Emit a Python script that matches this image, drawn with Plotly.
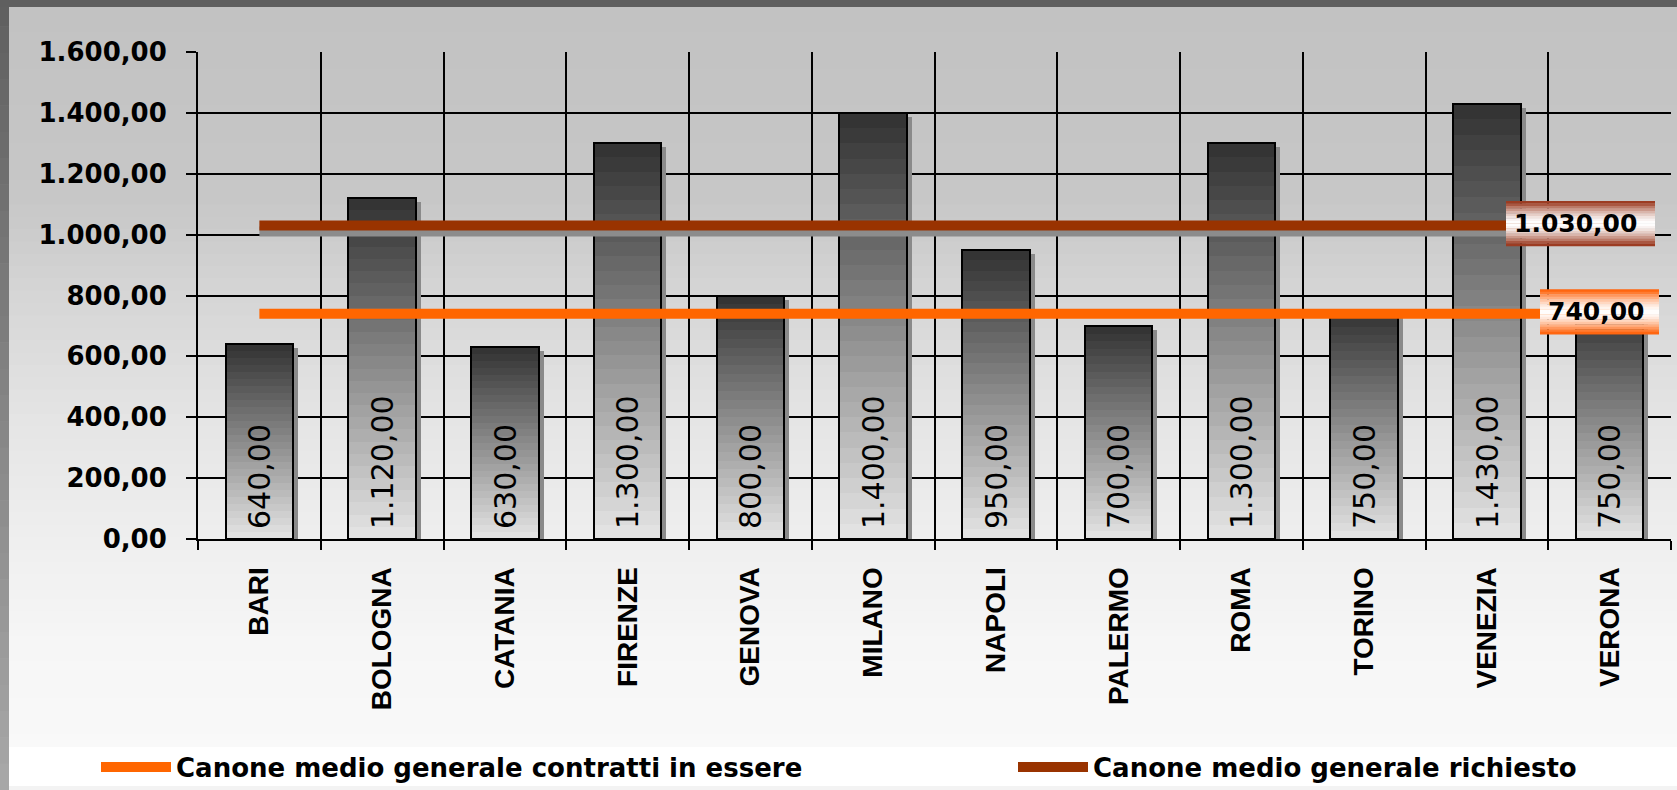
import plotly.graph_objects as go

# ---------------- data ----------------
cities = ["BARI", "BOLOGNA", "CATANIA", "FIRENZE", "GENOVA", "MILANO",
          "NAPOLI", "PALERMO", "ROMA", "TORINO", "VENEZIA", "VERONA"]
canone = [640, 1120, 630, 1300, 800, 1400, 950, 700, 1300, 750, 1430, 750]
media_contratti = 740      # Canone medio generale contratti in essere
media_richiesto = 1030     # Canone medio generale richiesto
y_tick_vals = [0, 200, 400, 600, 800, 1000, 1200, 1400, 1600]
name_contratti = "Canone medio generale contratti in essere"
name_richiesto = "Canone medio generale richiesto"


def it_fmt(v):
    s = f"{v:,.2f}"
    return s.replace(",", "X").replace(".", ",").replace("X", ".")


# ---------------- geometry helpers (decoration only) ----------------
W, H = 1677, 790
L, R, T, B = 198, 6, 52, 251
PW, PH = W - L - R, H - T - B
Y0 = H - B
CAT_PX = PW / len(cities)


def px_x(px):
    return (px - L) / PW


def px_y(py):
    return (Y0 - py) / PH


units_per_px = 1600 / PH

fig = go.Figure()

# bar shadows
BW = 0.55
fig.add_trace(go.Bar(
    x=cities, y=canone, base=-4 * units_per_px, width=BW,
    offset=-BW / 2 + 5 / CAT_PX, marker=dict(color="#8a8a8a", line=dict(width=0)),
    showlegend=False, hoverinfo="skip"))

# gradient bars: overlaid shorter bars, dark top -> light bottom
N = 28
c_top, c_bot = 0x34, 0xe2
for k in range(N):
    frac = (N - k) / N
    c = int(round(c_top + (c_bot - c_top) * k / (N - 1)))
    col = f"rgb({c},{c},{c})"
    fig.add_trace(go.Bar(
        x=cities, y=[v * frac for v in canone], width=BW, offset=-BW / 2,
        marker=dict(color=col, line=dict(width=0)),
        showlegend=False, hoverinfo="skip"))

# outline
fig.add_trace(go.Bar(
    x=cities, y=canone, width=BW, offset=-BW / 2,
    marker=dict(color="rgba(0,0,0,0)", line=dict(color="black", width=2)),
    showlegend=False, hoverinfo="skip"))

# value labels (transparent bar lifted slightly off the base)
lift = 7 * units_per_px
fig.add_trace(go.Bar(
    x=cities, y=[v - lift for v in canone], base=lift, width=BW, offset=-BW / 2,
    marker=dict(color="rgba(0,0,0,0)", line=dict(width=0)),
    text=[it_fmt(v) for v in canone], textposition="inside",
    insidetextanchor="start", textangle=-90,
    textfont=dict(family="DejaVu Sans", size=30, color="black"),
    showlegend=False, hoverinfo="skip"))

# shadow under the brown line
fig.add_trace(go.Scatter(
    x=cities, y=[media_richiesto - 6 * units_per_px] * len(cities), mode="lines",
    line=dict(color="#8c8c8c", width=10), showlegend=False, hoverinfo="skip"))

fig.add_trace(go.Scatter(
    x=cities, y=[media_contratti] * len(cities), mode="lines", name=name_contratti,
    line=dict(color="#FF6600", width=10), legend="legend"))
fig.add_trace(go.Scatter(
    x=cities, y=[media_richiesto] * len(cities), mode="lines", name=name_richiesto,
    line=dict(color="#993300", width=10), legend="legend2"))

shapes = []


def gradient_box(value, left_px, right_px, height_px, rgb, center_shift_px=2):
    """Vertical gradient (colour -> white -> colour) box behind a value label."""
    last = len(cities) - 1
    last_center_px = L + CAT_PX * (last + 0.5)
    x0 = last + (left_px - last_center_px) / CAT_PX
    x1 = last + (right_px - last_center_px) / CAT_PX
    yc = value + center_shift_px * units_per_px
    h = height_px * units_per_px
    nbands = 18
    for i in range(nbands):
        t = (i + 0.5) / nbands
        d = abs(2 * t - 1)              # 1 at edges, 0 at middle
        f = min(1.0, d ** 1.6 * 1.15)   # amount of colour
        r = int(round(255 + (rgb[0] - 255) * f))
        g = int(round(255 + (rgb[1] - 255) * f))
        b = int(round(255 + (rgb[2] - 255) * f))
        y_top = yc + h / 2 - h * i / nbands
        y_bot = yc + h / 2 - h * (i + 1) / nbands
        shapes.append(dict(type="rect", xref="x", yref="y", layer="above",
                           x0=x0, x1=x1, y0=y_bot - 0.3 * units_per_px, y1=y_top,
                           fillcolor=f"rgb({r},{g},{b})", line=dict(width=0)))
    return x0, x1


x0_r, x1_r = gradient_box(media_richiesto, 1506, 1655, 45, (0x9c, 0x3c, 0x22))
x0_c, x1_c = gradient_box(media_contratti, 1540, 1659, 45, (0xff, 0x66, 0x10))

# value labels at the end of the lines
fig.add_annotation(x=x0_r, y=media_richiesto, xref="x", yref="y", xanchor="left", xshift=6,
                   text=it_fmt(media_richiesto), showarrow=False, yshift=2,
                   font=dict(family="DejaVu Sans", size=25, color="black", weight="bold"))
fig.add_annotation(x=x0_c, y=media_contratti, xref="x", yref="y", xanchor="left", xshift=6,
                   text=it_fmt(media_contratti), showarrow=False, yshift=2,
                   font=dict(family="DejaVu Sans", size=25, color="black", weight="bold"))

# ---------------- background decoration ----------------
stops = [(7, 0xc2), (200, 0xc7), (300, 0xd6), (420, 0xe5), (540, 0xef),
         (650, 0xf6), (747, 0xf9)]
nb = 60
for i in range(nb):
    y_a = 7 + (747 - 7) * i / nb
    y_b = 7 + (747 - 7) * (i + 1) / nb
    ym = (y_a + y_b) / 2
    for j in range(len(stops) - 1):
        if stops[j][0] <= ym <= stops[j + 1][0]:
            t = (ym - stops[j][0]) / (stops[j + 1][0] - stops[j][0])
            c = int(round(stops[j][1] + (stops[j + 1][1] - stops[j][1]) * t))
            break
    shapes.append(dict(type="rect", xref="paper", yref="paper", layer="below",
                       x0=px_x(9), x1=px_x(W + 2), y0=px_y(y_b + 0.6), y1=px_y(y_a),
                       fillcolor=f"rgb({c},{c},{c})", line=dict(width=0)))
# legend band
shapes.append(dict(type="rect", xref="paper", yref="paper", layer="below",
                   x0=px_x(9), x1=px_x(W + 2), y0=px_y(786), y1=px_y(747),
                   fillcolor="#ffffff", line=dict(width=0)))
shapes.append(dict(type="rect", xref="paper", yref="paper", layer="below",
                   x0=px_x(9), x1=px_x(W + 2), y0=px_y(H + 2), y1=px_y(786),
                   fillcolor="#f3f3f3", line=dict(width=0)))
# left border gradient
nl = 30
for i in range(nl):
    y_a = H * i / nl
    y_b = H * (i + 1) / nl
    c = int(round(0x5f + (0xa8 - 0x5f) * (i + 0.5) / nl))
    shapes.append(dict(type="rect", xref="paper", yref="paper", layer="below",
                       x0=px_x(-2), x1=px_x(9), y0=px_y(y_b + 0.6), y1=px_y(y_a),
                       fillcolor=f"rgb({c},{c},{c})", line=dict(width=0)))
# top border
shapes.append(dict(type="rect", xref="paper", yref="paper", layer="below",
                   x0=px_x(-2), x1=px_x(W + 2), y0=px_y(7), y1=px_y(-2),
                   fillcolor="#5f5f5f", line=dict(width=0)))

legend_font = dict(family="DejaVu Sans", size=26, color="black", weight="bold")

fig.update_layout(
    width=W, height=H,
    margin=dict(l=L, r=R, t=T, b=B, pad=0, autoexpand=False),
    paper_bgcolor="#f3f3f3", plot_bgcolor="rgba(0,0,0,0)",
    barmode="overlay", bargap=0,
    separators=",.",
    shapes=shapes,
    showlegend=True,
    legend=dict(orientation="h", x=px_x(96), xanchor="left", y=px_y(767), yanchor="middle",
                font=legend_font, bgcolor="rgba(0,0,0,0)", itemwidth=70),
    legend2=dict(orientation="h", x=px_x(1013), xanchor="left", y=px_y(767), yanchor="middle",
                 font=legend_font, bgcolor="rgba(0,0,0,0)", itemwidth=70),
    xaxis=dict(type="category", categoryorder="array", categoryarray=cities,
               range=[-0.5, len(cities) - 0.5], tickson="boundaries", automargin=False,
               showgrid=True, gridcolor="black", gridwidth=1.5,
               showline=True, linecolor="black", linewidth=2,
               ticks="outside", ticklen=9, tickwidth=1.5, tickcolor="black",
               tickangle=-90, ticklabelstandoff=15,
               tickfont=dict(family="Liberation Sans", size=28, color="black", weight="bold")),
    yaxis=dict(range=[0, 1600], tickvals=y_tick_vals, tickformat=",.2f", automargin=False,
               showgrid=True, gridcolor="black", gridwidth=1.5, zeroline=False,
               showline=True, linecolor="black", linewidth=2,
               ticks="outside", ticklen=10, tickwidth=1.5, tickcolor="black",
               ticklabelstandoff=14,
               tickfont=dict(family="DejaVu Sans", size=26, color="black", weight="bold")),
)

fig.write_html("out.html")
